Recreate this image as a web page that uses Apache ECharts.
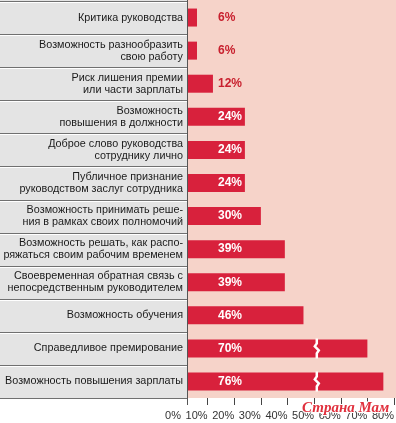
<!DOCTYPE html>
<html>
<head>
<meta charset="utf-8">
<script src="https://cdn.jsdelivr.net/npm/echarts@6/dist/echarts.min.js"></script>
<style>
  html, body { margin: 0; padding: 0; background: #fff; }
  #chart { width: 396px; height: 423px; }
</style>
</head>
<body>
<div id="chart"></div>
<script>
// данные
var categories = [
    'Критика руководства',
    'Возможность разнообразить\nсвою работу',
    'Риск лишения премии\nили части зарплаты',
    'Возможность\nповышения в должности',
    'Доброе слово руководства\nсотруднику лично',
    'Публичное признание\nруководством заслуг сотрудника',
    'Возможность принимать реше-\nния в рамках своих полномочий',
    'Возможность решать, как распо-\nряжаться своим рабочим временем',
    'Своевременная обратная связь с\nнепосредственным руководителем',
    'Возможность обучения',
    'Справедливое премирование',
    'Возможность повышения зарплаты'
];
var values = [6, 6, 12, 24, 24, 24, 30, 39, 39, 46, 70, 76];
var tickLabels = [0, 10, 20, 30, 40, 50, 60, 70, 80];
var tickMarks = [10, 20, 30, 40, 50, 60, 70, 80];
var breakRows = ['Справедливое премирование', 'Возможность повышения зарплаты'];
var breakValue = 51;

var gridTop = 1, gridBottom = 25, chartH = 423, panelW = 187;
var rowH = (chartH - gridTop - gridBottom) / categories.length;

var barData = values.map(function (v) {
    return {
        value: v,
        label: { color: v >= 20 ? '#ffffff' : '#c8202e' }
    };
});

var breakData = breakRows.map(function (c) { return [breakValue, c]; });

//левая серая панель
var graphics = [
    { type: 'rect', z: 0, shape: { x: panelW, y: 0, width: 396 - panelW, height: gridTop + rowH * categories.length }, style: { fill: '#f6d3c9' } },
    { type: 'rect', z: 5, shape: { x: 0, y: 0, width: panelW, height: gridTop + rowH * categories.length }, style: { fill: '#e4e4e4' } }
];
for (var i = 0; i <= categories.length; i++) {
    var y = Math.round(gridTop + i * rowH);
    graphics.push({ type: 'line', z: 6, shape: { x1: 0, y1: y + 0.5, x2: panelW, y2: y + 0.5 }, style: { stroke: '#707070', lineWidth: 1 } });
    if (i < categories.length) {
        graphics.push({ type: 'line', z: 6, shape: { x1: 0, y1: y + 1.5, x2: panelW, y2: y + 1.5 }, style: { stroke: '#ffffff', lineWidth: 1 } });
    }
}
graphics.push({ type: 'line', z: 7, shape: { x1: panelW + 0.5, y1: 0, x2: panelW + 0.5, y2: 405 }, style: { stroke: '#555555', lineWidth: 1 } });
graphics.push({
    type: 'text', z: 20, x: 302, y: 401,
    style: { text: 'Страна Мам', font: 'italic bold 15px "Liberation Serif"', fill: '#e0303d', stroke: '#ffffff', lineWidth: 2 }
});

var option = {
    animation: false,
    backgroundColor: '#ffffff',
    grid: { left: 181, right: 2, top: gridTop, bottom: gridBottom, outerBoundsMode: 'none' },
    xAxis: {
        type: 'value',
        min: 0,
        max: 80,
        interval: 10,
        axisLine: { show: false },
        splitLine: { show: false },
        axisTick: { show: true, length: 7, customValues: tickMarks, lineStyle: { color: '#444' } },
        axisLabel: {
            customValues: tickLabels,
            formatter: '{value}%',
            align: 'right',
            margin: 12,
            fontSize: 11,
            color: '#333',
            fontFamily: 'Liberation Sans'
        }
    },
    yAxis: {
        type: 'category',
        inverse: true,
        z: 10,
        data: categories,
        axisLine: { show: false },
        axisTick: { show: false },
        axisLabel: {
            margin: -2,
            fontSize: 10.8,
            lineHeight: 12,
            color: '#1a1a1a',
            fontFamily: 'Liberation Sans'
        }
    },
    graphic: graphics,
    series: [
        {
            type: 'bar',
            data: barData,
            barWidth: 18,
            z: 2,
            itemStyle: { color: '#d8213c' },
            label: {
                show: true,
                position: 'insideLeft',
                distance: 37,
                formatter: '{c}%',
                fontSize: 12,
                fontWeight: 'bold',
                fontFamily: 'Liberation Sans'
            }
        },
        {
            type: 'custom',
            z: 3,
            data: breakData,
            encode: { x: 0, y: 1 },
            renderItem: function (params, api) {
                var p = api.coord([api.value(0), api.value(1)]);
                var x = p[0], y = p[1];
                return {
                    type: 'polyline',
                    shape: { points: [[x, y - 10], [x, y - 5], [x - 2, y - 2], [x + 2, y + 2], [x, y + 5], [x, y + 10]] },
                    style: { stroke: '#ffffff', lineWidth: 2.5, fill: null }
                };
            }
        }
    ]
};

var myChart = echarts.init(document.getElementById('chart'));
myChart.setOption(option);
</script>
</body>
</html>
